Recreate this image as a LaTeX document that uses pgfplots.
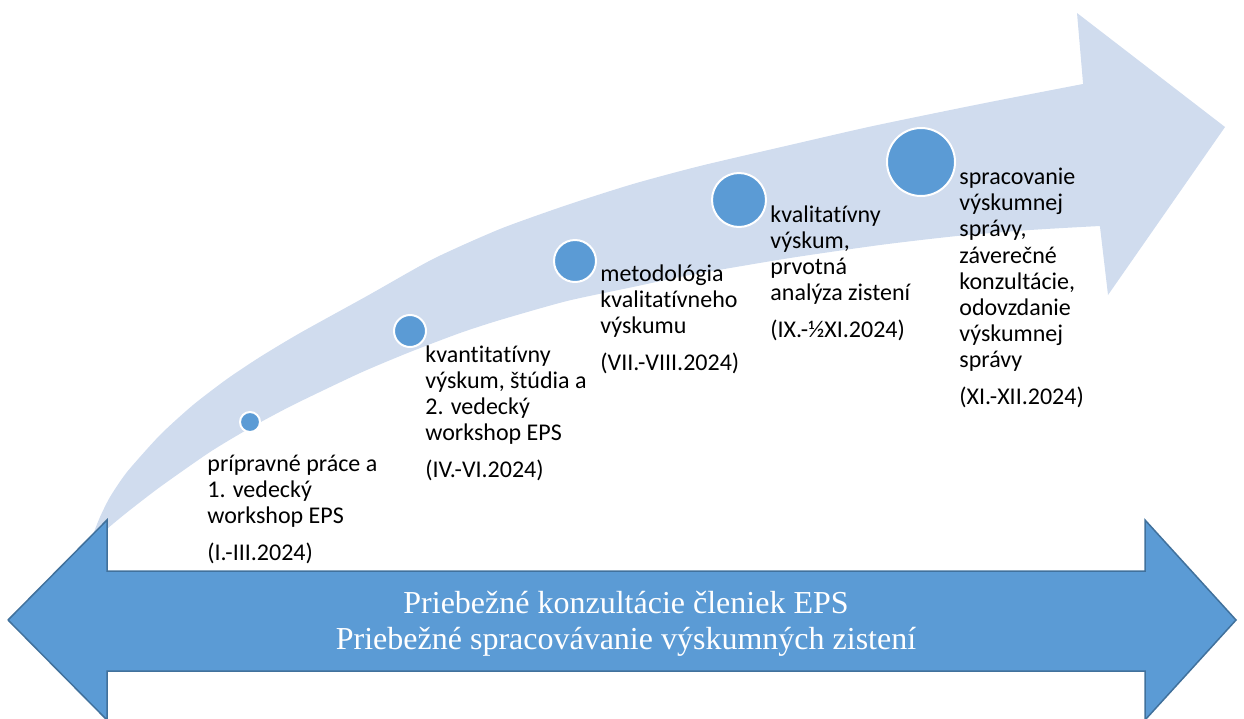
\documentclass[border=0pt]{standalone}
\usepackage{fontspec}
\setmainfont{Carlito}[Ligatures=NoCommon]
\newfontfamily\serif{Liberation Serif}
\usepackage{pgfplots}
\pgfplotsset{compat=1.18}
\definecolor{band}{RGB}{208,220,238}
\definecolor{stepblue}{RGB}{91,155,213}
\definecolor{edgeblue}{RGB}{65,113,156}
% anchor is the baseline of the last line (the date)
\tikzset{lbl/.style={font=\fontsize{12}{13.1}\selectfont, align=left, anchor=base west, inner sep=0pt}}

\begin{document}
\begin{tikzpicture}
\begin{axis}[
  width=622pt, height=359pt, scale only axis,
  xmin=0, xmax=1244, ymin=0, ymax=718,
  y dir=reverse,
  hide axis
]
\path (rel axis cs:0,0) rectangle (rel axis cs:1,1);

% curved arrow, shaft (pixel coordinates, y down)
\addplot[fill=band, draw=none, smooth, tension=0.4] coordinates {
  (82,588) (85,562) (88,546) (92,537) (100,517) (110,497) (127,472)
  (160,435) (193,405) (227,379) (260,357) (300,333) (367,296) (433,259)
  (500,229) (567,205) (633,184) (700,166) (790,145) (873,126) (980,104)
  (1083,84) (1112,79) (1112,150) (1112,226) (1100,226)
  (1030,230) (957,236) (880,245) (790,258) (690,275) (633,287) (567,301)
  (500,320) (460,333) (410,352) (360,373) (293,405) (250,428) (210,452)
  (160,487) (125,514) (103,533) (94,550) (87,570) (82,588)
};
% curved arrow, head
\addplot[fill=band, draw=none] coordinates {
  (1083,83) (1077,13) (1225,127) (1108,295) (1100,227) (1083,83)
};

% milestones
\addplot[scatter, only marks, mark=*, line width=1pt,
  scatter/use mapped color={draw=white, fill=stepblue},
  visualization depends on={\thisrow{r} \as \rad},
  scatter/@pre marker code/.append style={/tikz/mark size=\rad}]
  table {
x y r
250 422 5
410 331 8
575 261 10.5
739 200 13.5
921 162 17
};

% double arrow
\addplot[fill=stepblue, draw=edgeblue, line width=0.75pt] coordinates {
  (8,620) (107,520) (107,571) (1145,571) (1145,520) (1236,620)
  (1145,720) (1145,671) (107,671) (107,720) (8,620)
};

\node[lbl] at (axis cs:207,560) {prípravné práce a\\1. vedecký\\workshop EPS\\[5pt](I.-III.2024)};
\node[lbl] at (axis cs:425,477) {kvantitatívny\\výskum, štúdia a\\2. vedecký\\workshop EPS\\[5pt](IV.-VI.2024)};
\node[lbl] at (axis cs:600,370) {metodológia\\kvalitatívneho\\výskumu\\[5pt](VII.-VIII.2024)};
\node[lbl] at (axis cs:770,337) {kvalitatívny\\výskum,\\prvotná\\analýza zistení\\[5pt](IX.-½XI.2024)};
\node[lbl] at (axis cs:959,404) {spracovanie\\výskumnej\\správy,\\záverečné\\konzultácie,\\odovzdanie\\výskumnej\\správy\\[5pt](XI.-XII.2024)};

\node[anchor=center, align=center, text=white, font=\serif\fontsize{16}{18}\selectfont] at (axis cs:626,624)
  {Priebežné konzultácie členiek EPS\\Priebežné spracovávanie výskumných zistení};
\end{axis}
\end{tikzpicture}
\end{document}
